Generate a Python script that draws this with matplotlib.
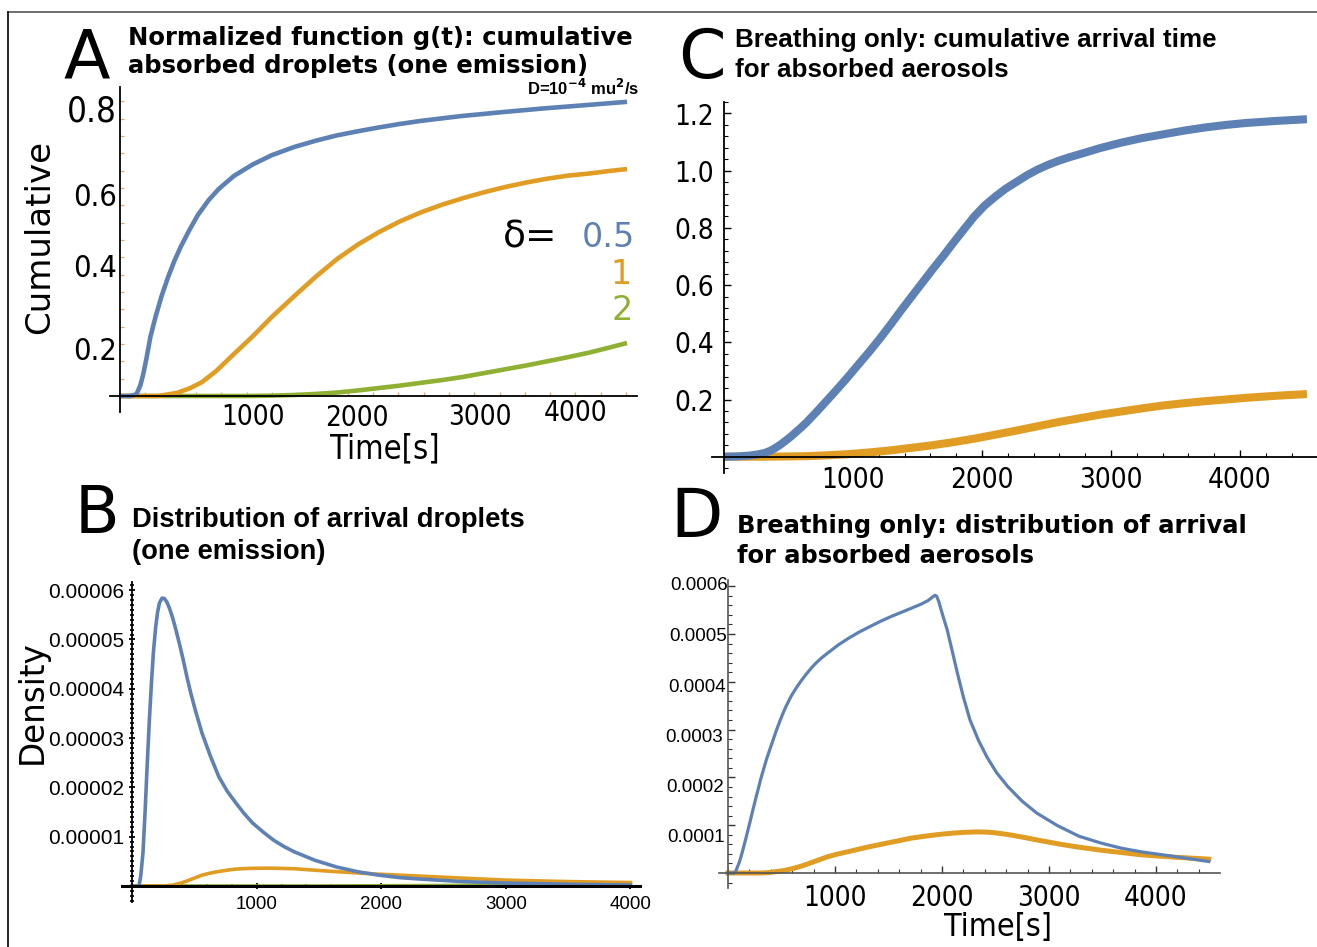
import numpy as np
import matplotlib
matplotlib.use("Agg")
import matplotlib.pyplot as plt
from matplotlib import font_manager
from matplotlib.lines import Line2D
from matplotlib.ticker import FixedLocator, MultipleLocator, FormatStrFormatter

W, H = 1317, 947

BLUE = '#5E81B5'
ORANGE = '#E19C24'
GREEN = '#8FB032'

# ---- A: normalized cumulative g(t), one emission (delta = 0.5, 1, 2)
a_blue_t = [0, 80, 130, 160, 182, 210, 240, 282, 330, 382, 430, 482, 550, 615, 700, 782,
            900, 1048, 1200, 1380, 1550, 1713, 1880, 2046, 2210, 2379, 2700, 3044, 3350,
            3700, 4008]
a_blue_v = [0, 0, 0.005, 0.03, 0.06, 0.11, 0.17, 0.23, 0.29, 0.345, 0.39, 0.432, 0.48,
            0.522, 0.565, 0.598, 0.635, 0.668, 0.695, 0.719, 0.737, 0.752, 0.764, 0.775,
            0.785, 0.794, 0.808, 0.820, 0.830, 0.840, 0.849]
a_orange_t = [0, 300, 451, 550, 648, 760, 877, 1043, 1200, 1383, 1550, 1715, 1880, 2047,
              2213, 2379, 2545, 2711, 2877, 3043, 3210, 3375, 3540, 3707, 3860, 4008]
a_orange_v = [0, 0, 0.009, 0.022, 0.040, 0.072, 0.113, 0.170, 0.228, 0.290, 0.345, 0.395,
              0.437, 0.473, 0.504, 0.530, 0.552, 0.571, 0.588, 0.603, 0.616, 0.627, 0.636,
              0.642, 0.649, 0.655]
a_green_t = [0, 1000, 1200, 1383, 1550, 1715, 1880, 2047, 2213, 2379, 2545, 2711, 2877,
             3043, 3210, 3375, 3540, 3707, 3860, 4008]
a_green_v = [0, 0, 0.001, 0.003, 0.006, 0.010, 0.016, 0.023, 0.030, 0.038, 0.046, 0.055,
             0.066, 0.077, 0.088, 0.100, 0.112, 0.125, 0.139, 0.153]
a_deltas = ['0.5', '1', '2']

# ---- B: arrival density, one emission (values in 1e-5)
b_blue_t = [0, 56, 70, 88, 105, 120, 138, 156, 172, 190, 205, 220, 241, 260, 280, 300,
            325, 350, 380, 410, 440, 470, 510, 562, 630, 698, 765, 835, 900, 967, 1050,
            1136, 1220, 1305, 1470, 1643, 1810, 1981, 2150, 2319, 2650, 2994, 3500, 4000]
b_blue_v = [0, 0, 0.2, 0.67, 1.5, 2.35, 3.3, 4.12, 4.75, 5.25, 5.55, 5.74, 5.84, 5.83,
            5.76, 5.64, 5.45, 5.22, 4.92, 4.6, 4.25, 3.93, 3.55, 3.10, 2.63, 2.21, 1.92,
            1.68, 1.47, 1.28, 1.10, 0.93, 0.80, 0.69, 0.52, 0.385, 0.29, 0.22, 0.17,
            0.14, 0.09, 0.06, 0.035, 0.02]
b_orange_t = [0, 257, 330, 393, 440, 480, 520, 562, 610, 662, 712, 762, 820, 880, 940,
              1003, 1080, 1150, 1230, 1305, 1470, 1643, 1810, 1981, 2150, 2319, 2650,
              2994, 3500, 4000]
b_orange_v = [0, 0, 0.02, 0.06, 0.10, 0.14, 0.18, 0.22, 0.25, 0.28, 0.30, 0.32, 0.34,
              0.35, 0.357, 0.36, 0.362, 0.36, 0.355, 0.35, 0.32, 0.29, 0.265, 0.24, 0.22,
              0.20, 0.16, 0.12, 0.09, 0.07]
b_green_t = [0, 1500, 2500, 3000, 3500, 4000]
b_green_v = [0, 0, 0.01, 0.02, 0.03, 0.04]

# ---- C: breathing only, cumulative arrival
c_blue_t = [0, 100, 200, 260, 315, 360, 400, 440, 478, 520, 560, 600, 640, 720, 803, 885,
            965, 1045, 1128, 1210, 1290, 1370, 1453, 1535, 1615, 1700, 1778, 1860, 1940,
            2020, 2102, 2180, 2264, 2345, 2426, 2510, 2590, 2670, 2752, 2915, 3078, 3240,
            3403, 3565, 3726, 3890, 4050, 4280, 4519]
c_blue_v = [0, 0.001, 0.004, 0.008, 0.013, 0.021, 0.031, 0.043, 0.056, 0.071, 0.087,
            0.103, 0.120, 0.158, 0.199, 0.240, 0.281, 0.324, 0.368, 0.414, 0.461, 0.510,
            0.559, 0.607, 0.654, 0.702, 0.748, 0.795, 0.840, 0.878, 0.909, 0.936, 0.960,
            0.983, 1.003, 1.020, 1.034, 1.046, 1.057, 1.079, 1.098, 1.114, 1.127, 1.140,
            1.151, 1.160, 1.167, 1.174, 1.180]
c_orange_t = [0, 300, 500, 650, 803, 965, 1128, 1290, 1453, 1615, 1778, 1940, 2102, 2264,
              2426, 2590, 2752, 2915, 3078, 3240, 3403, 3565, 3726, 3890, 4050, 4280, 4519]
c_orange_v = [0, 0, 0.001, 0.002, 0.005, 0.009, 0.015, 0.022, 0.031, 0.040, 0.051, 0.063,
              0.077, 0.091, 0.106, 0.121, 0.134, 0.147, 0.158, 0.169, 0.179, 0.187, 0.194,
              0.200, 0.206, 0.213, 0.219]

# ---- D: breathing only, arrival density (values in 1e-4)
d_blue_t = [0, 60, 75, 89, 105, 120, 135, 148, 170, 190, 208, 226, 245, 265, 285, 304,
            330, 360, 390, 421, 450, 480, 510, 539, 590, 640, 690, 735, 783, 830, 880,
            931, 1030, 1126, 1225, 1322, 1420, 1518, 1616, 1714, 1800, 1870, 1910, 1935,
            1950, 1970, 1990, 2015, 2047, 2095, 2144, 2200, 2262, 2340, 2419, 2510, 2614,
            2750, 2888, 3080, 3280, 3480, 3673, 3870, 4063, 4280, 4493]
d_blue_v = [0, 0, 0.05, 0.13, 0.22, 0.33, 0.45, 0.56, 0.75, 0.93, 1.09, 1.26, 1.43, 1.61,
            1.78, 1.95, 2.15, 2.38, 2.58, 2.78, 2.97, 3.15, 3.32, 3.47, 3.70, 3.88, 4.04,
            4.17, 4.30, 4.41, 4.51, 4.60, 4.77, 4.91, 5.04, 5.15, 5.26, 5.36, 5.45, 5.54,
            5.62, 5.70, 5.77, 5.81, 5.79, 5.68, 5.52, 5.33, 5.10, 4.65, 4.18, 3.68, 3.20,
            2.78, 2.43, 2.10, 1.81, 1.50, 1.25, 0.99, 0.77, 0.63, 0.52, 0.44, 0.38, 0.31,
            0.24]
d_orange_t = [0, 300, 360, 421, 470, 520, 570, 617, 700, 770, 850, 931, 1030, 1130, 1225,
              1322, 1420, 1518, 1616, 1714, 1810, 1910, 2010, 2106, 2220, 2340, 2420, 2500,
              2600, 2692, 2790, 2890, 2990, 3084, 3180, 3280, 3380, 3477, 3570, 3670, 3770,
              3867, 4020, 4180, 4340, 4493]
d_orange_v = [0, 0, 0.005, 0.02, 0.035, 0.05, 0.075, 0.10, 0.155, 0.21, 0.275, 0.34,
              0.40, 0.45, 0.50, 0.55, 0.595, 0.64, 0.685, 0.73, 0.76, 0.79, 0.815, 0.835,
              0.852, 0.86, 0.855, 0.84, 0.81, 0.775, 0.735, 0.69, 0.65, 0.61, 0.575, 0.54,
              0.51, 0.48, 0.455, 0.43, 0.405, 0.38, 0.355, 0.33, 0.31, 0.29]

# fonts: narrow variant is used when installed
names = {f.name for f in font_manager.fontManager.ttflist}
if 'Liberation Sans Narrow' in names:
    NARROW, NSCALE = 'Liberation Sans Narrow', 1.0
else:
    NARROW, NSCALE = 'Liberation Sans', 0.82
DJ = dict(family='DejaVu Sans', fontstretch='condensed')

fig = plt.figure(figsize=(W / 100, H / 100), dpi=100)


def fx(px):
    return px / W


def fy(py):
    return 1 - py / H


def panel(xs, ys, origin, scale):
    (xl, xr), (yt, yb) = xs, ys
    ox, oy = origin
    sx, sy = scale
    ax = fig.add_axes([fx(xl), fy(yb), (xr - xl) / W, (yb - yt) / H])
    ax.set_xlim((xl - ox) / sx, (xr - ox) / sx)
    ax.set_ylim((oy - yb) / sy, (oy - yt) / sy)
    ax.patch.set_alpha(0)
    ax.spines['top'].set_visible(False)
    ax.spines['right'].set_visible(False)
    ax.spines['left'].set_position(('data', 0))
    ax.spines['bottom'].set_position(('data', 0))
    return ax


# ---------------- panel A
axA = panel((110, 637), (87, 412), (120, 396), (0.1265, 346.5))
axA.plot(a_green_t, a_green_v, color=GREEN, lw=3.3, solid_capstyle='butt')
axA.plot(a_orange_t, a_orange_v, color=ORANGE, lw=3.3, solid_capstyle='butt')
axA.plot(a_blue_t, a_blue_v, color=BLUE, lw=3.3, solid_capstyle='butt')
for s in ('left', 'bottom'):
    axA.spines[s].set_linewidth(1.3)
axA.xaxis.set_major_locator(FixedLocator([1000, 2000, 3000, 4000]))
axA.xaxis.set_minor_locator(MultipleLocator(200))
axA.yaxis.set_major_locator(FixedLocator([0.2, 0.4, 0.6, 0.8]))
axA.yaxis.set_minor_locator(MultipleLocator(0.05))
axA.tick_params(which='both', direction='in', color='#EDA766', labelbottom=False,
                labelleft=False, length=3, width=0.9)

# hand-placed tick labels
a_xlabels = ['1000', '2000', '3000', '4000']
a_xlabel_px = [(253, 417), (357, 418), (480, 417), (576, 413)]
for lab, (px, py) in zip(a_xlabels, a_xlabel_px):
    fig.text(fx(px), fy(py), lab, ha='center', va='center', fontsize=20, **DJ)
a_ylabels = ['0.8', '0.6', '0.4', '0.2']
a_ylabel_px = [(117, 112, 25), (117, 197, 22), (117, 268, 22), (117, 351, 22)]
for lab, (px, py, sz) in zip(a_ylabels, a_ylabel_px):
    fig.text(fx(px), fy(py), lab, ha='right', va='center', fontsize=sz, **DJ)

fig.text(fx(40), fy(237), 'Cumulative', rotation=90, ha='center', va='center',
         fontsize=24.5, family='DejaVu Sans')
fig.text(fx(385), fy(449), 'Time[s]', ha='center', va='center', fontsize=23.5, **DJ)
fig.text(fx(63), fy(78), 'A', fontsize=49, family='DejaVu Sans', va='baseline')
fig.text(fx(128), fy(45), 'Normalized function g(t): cumulative', fontsize=17.5,
         fontweight='bold', family='DejaVu Sans', va='baseline')
fig.text(fx(128), fy(73), 'absorbed droplets (one emission)', fontsize=17.5,
         fontweight='bold', family='DejaVu Sans', va='baseline')
fig.text(fx(527), fy(95), r'D=10$^{\mathbf{-4}}$ mu$^{\mathbf{2}}$/s', fontsize=12,
         fontweight='bold', family=NARROW, va='baseline')
fig.text(fx(503), fy(248), 'δ=', fontsize=27, family='DejaVu Sans', va='baseline')
fig.text(fx(582), fy(247), a_deltas[0], fontsize=24, color=BLUE, family='DejaVu Sans',
         va='baseline')
fig.text(fx(632), fy(284), a_deltas[1], fontsize=24, color=ORANGE, family='DejaVu Sans',
         va='baseline', ha='right')
fig.text(fx(633), fy(320), a_deltas[2], fontsize=24, color=GREEN, family='DejaVu Sans',
         va='baseline', ha='right')

# ---------------- panel B
axB = panel((122, 640), (582, 902), (132, 886), (0.1246, 49.3e5))
axB.plot(b_green_t, np.array(b_green_v) * 1e-5, color=GREEN, lw=2.6)
axB.plot(b_orange_t, np.array(b_orange_v) * 1e-5, color=ORANGE, lw=2.6)
axB.plot(b_blue_t, np.array(b_blue_v) * 1e-5, color=BLUE, lw=2.6)
axB.spines['bottom'].set_linewidth(2.2)
axB.spines['left'].set_linewidth(1.3)
axB.xaxis.set_major_locator(FixedLocator([1000, 2000, 3000, 4000]))
axB.xaxis.set_minor_locator(MultipleLocator(200))
axB.yaxis.set_major_locator(FixedLocator([1e-5, 2e-5, 3e-5, 4e-5, 5e-5, 6e-5]))
axB.yaxis.set_minor_locator(MultipleLocator(0.1e-5))
axB.yaxis.set_major_formatter(FormatStrFormatter('%.5f'))
axB.tick_params(which='major', direction='inout', length=5, width=1.3, color='black')
axB.tick_params(which='minor', direction='inout', length=3, width=1.2, color='black')
axB.tick_params(axis='y', labelsize=15, pad=3)
axB.tick_params(axis='x', labelsize=13.5, pad=5)
for lab in axB.get_xticklabels() + axB.get_yticklabels():
    lab.set_family('Liberation Sans')

fig.text(fx(32), fy(702), 'Density', rotation=90, ha='center', va='center',
         fontsize=23.5, family='DejaVu Sans')
fig.text(fx(75), fy(533), 'B', fontsize=47, family='DejaVu Sans', va='baseline')
fig.text(fx(132), fy(527), 'Distribution of arrival droplets', fontsize=24 * NSCALE,
         fontweight='bold', family=NARROW, va='baseline')
fig.text(fx(132), fy(559), '(one emission)', fontsize=24 * NSCALE,
         fontweight='bold', family=NARROW, va='baseline')

# ---------------- panel C
axC = panel((712, 1317), (102, 473), (724, 456.7), (0.129, 286))
axC.plot(c_orange_t, c_orange_v, color=ORANGE, lw=5.8, solid_capstyle='butt')
axC.plot(c_blue_t, c_blue_v, color=BLUE, lw=5.8, solid_capstyle='butt')
for s in ('left', 'bottom'):
    axC.spines[s].set_linewidth(1.3)
axC.xaxis.set_major_locator(FixedLocator([1000, 2000, 3000, 4000]))
axC.xaxis.set_minor_locator(MultipleLocator(200))
axC.yaxis.set_major_locator(FixedLocator([0.2, 0.4, 0.6, 0.8, 1.0, 1.2]))
axC.yaxis.set_minor_locator(MultipleLocator(0.04))
axC.yaxis.set_major_formatter(FormatStrFormatter('%.1f'))
axC.tick_params(which='major', direction='in', length=5, width=1.0)
axC.tick_params(which='minor', direction='in', length=3, width=0.8)
axC.tick_params(labelsize=20, pad=7)
for lab in axC.get_xticklabels() + axC.get_yticklabels():
    lab.set_family('DejaVu Sans')
    lab.set_fontstretch('condensed')

fig.text(fx(678), fy(78), 'C', fontsize=49, family='DejaVu Sans', va='baseline')
fig.text(fx(735), fy(47), 'Breathing only: cumulative arrival time', fontsize=22.8 * NSCALE,
         fontweight='bold', family=NARROW, va='baseline')
fig.text(fx(735), fy(77), 'for absorbed aerosols', fontsize=22.8 * NSCALE,
         fontweight='bold', family=NARROW, va='baseline')

# ---------------- panel D
axD = panel((719, 1220), (580, 888), (728, 873), (0.107, 47.8e4))
axD.plot(d_orange_t, np.array(d_orange_v) * 1e-4, color=ORANGE, lw=3.6)
axD.plot(d_blue_t, np.array(d_blue_v) * 1e-4, color=BLUE, lw=2.3)
for s in ('left', 'bottom'):
    axD.spines[s].set_linewidth(1.2)
    axD.spines[s].set_color('#555555')
axD.xaxis.set_major_locator(FixedLocator([1000, 2000, 3000, 4000]))
axD.xaxis.set_minor_locator(MultipleLocator(200))
axD.yaxis.set_major_locator(FixedLocator([1e-4, 2e-4, 3e-4, 4e-4, 5e-4, 6e-4]))
axD.yaxis.set_minor_locator(MultipleLocator(0.2e-4))
axD.tick_params(which='major', direction='in', length=5, width=1.0, color='#333333')
axD.tick_params(which='minor', direction='in', length=3, width=0.8, color='#333333')
axD.tick_params(axis='x', labelsize=20, pad=8)
axD.tick_params(axis='y', labelleft=False)
for lab in axD.get_xticklabels():
    lab.set_family('DejaVu Sans')
    lab.set_fontstretch('condensed')

d_ylabels = ['0.0006', '0.0005', '0.0004', '0.0003', '0.0002', '0.0001']
d_ylabel_px = [(728, 585), (727, 636), (726, 687), (723, 737), (724, 788), (725, 838)]
for lab, (px, py) in zip(d_ylabels, d_ylabel_px):
    fig.text(fx(px), fy(py), lab, ha='right', va='center', fontsize=13.5,
             family='Liberation Sans')

fig.text(fx(998), fy(927), 'Time[s]', ha='center', va='center', fontsize=23, **DJ)
fig.text(fx(670), fy(537), 'D', fontsize=49, family='DejaVu Sans', va='baseline')
fig.text(fx(737), fy(533), 'Breathing only: distribution of arrival', fontsize=17.4,
         fontweight='bold', family='DejaVu Sans', va='baseline')
fig.text(fx(737), fy(563), 'for absorbed aerosols', fontsize=17.4,
         fontweight='bold', family='DejaVu Sans', va='baseline')

# outer frame (top and left edges)
fig.add_artist(Line2D([fx(8), 1], [fy(12), fy(12)], color='#555555', lw=1.2))
fig.add_artist(Line2D([fx(8), fx(8)], [fy(12), 0], color='black', lw=1.2))

fig.savefig('out.png', dpi=100)
